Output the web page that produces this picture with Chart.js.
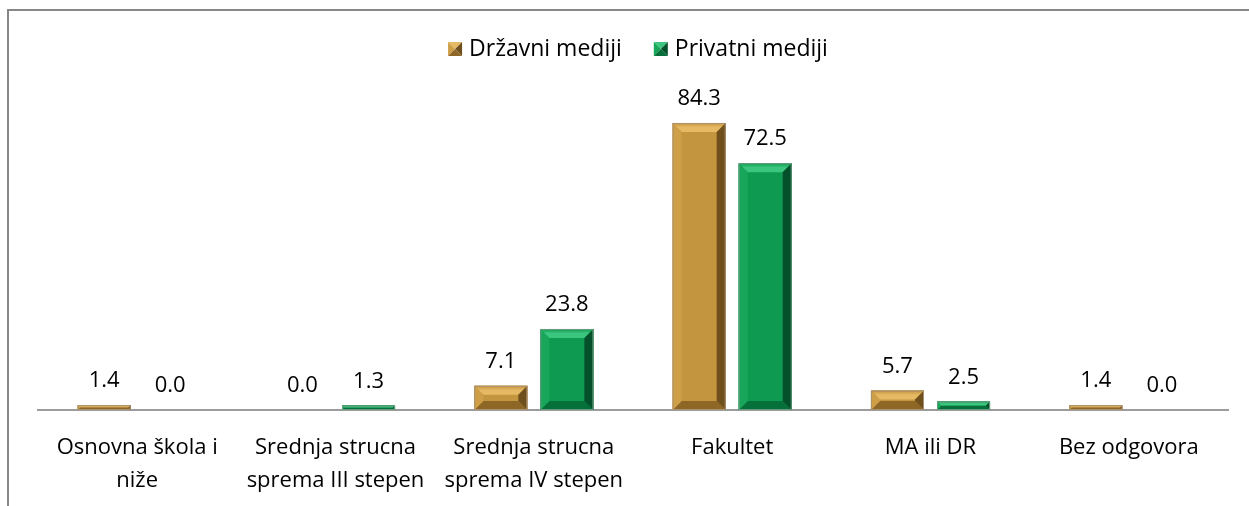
<!DOCTYPE html>
<html>
<head>
<meta charset="utf-8">
<script src="https://cdn.jsdelivr.net/npm/chart.js@4.4.1/dist/chart.umd.min.js"></script>
<style>
  html, body { margin: 0; padding: 0; background: #fff; }
  #wrap { position: relative; width: 1249px; height: 506px; overflow: hidden; }
  #frame {
    position: absolute; left: 7px; top: 9px; width: 1300px; height: 600px;
    border-top: 2px solid #878787; border-left: 2px solid #878787;
  }
  canvas { position: absolute; left: 0; top: 0; }
</style>
</head>
<body>
<div id="wrap">
  <div id="frame"></div>
  <canvas id="chart" width="1249" height="506"></canvas>
</div>
<script>
// --- data ---
const categories = [
  ['Osnovna škola i', 'niže'],
  ['Srednja strucna', 'sprema III stepen'],
  ['Srednja strucna', 'sprema IV stepen'],
  'Fakultet',
  'MA ili DR',
  'Bez odgovora',
];
const drzavni  = [1.4, 0.0, 7.1, 84.3, 5.7, 1.4];
const privatni = [0.0, 1.3, 23.8, 72.5, 2.5, 0.0];
const seriesNames = ['Državni mediji', 'Privatni mediji'];

const FONT = '"Open Sans", "Noto Sans", sans-serif';
const FONT_SIZE = 22;

// bevel palettes per series: face, top, left, right, bottom
const BEVEL = [
  { face: '#c4953f', top: '#e6b964', left: '#cf9f48', right: '#6f4f1c', bottom: '#8e6727', edge: '#a89274' },
  { face: '#0e9a50', top: '#3cc57e', left: '#17a65a', right: '#03502a', bottom: '#06703a', edge: '#6c9a80' },
];

function poly(ctx, pts, fill) {
  ctx.beginPath();
  ctx.moveTo(pts[0][0], pts[0][1]);
  for (let i = 1; i < pts.length; i++) ctx.lineTo(pts[i][0], pts[i][1]);
  ctx.closePath();
  ctx.fillStyle = fill;
  ctx.fill();
}

function drawBevel(ctx, l, t, r, bot, pal, size) {
  const w = r - l, h = bot - t;
  if (h <= 0 || w <= 0) return;
  const b = Math.min(size, h / 2, w / 2);
  poly(ctx, [[l, t], [r, t], [r, bot], [l, bot]], pal.face);
  const g = ctx.createLinearGradient(0, t, 0, t + b);
  g.addColorStop(0, pal.face);
  g.addColorStop(0.5, pal.top);
  g.addColorStop(1, pal.top);
  poly(ctx, [[l, t], [r, t], [r - b, t + b], [l + b, t + b]], g);
  poly(ctx, [[l, bot], [r, bot], [r - b, bot - b], [l + b, bot - b]], pal.bottom);
  poly(ctx, [[l, t], [l + b, t + b], [l + b, bot - b], [l, bot]], pal.left);
  poly(ctx, [[r, t], [r - b, t + b], [r - b, bot - b], [r, bot]], pal.right);
  ctx.strokeStyle = pal.edge;
  ctx.lineWidth = 1;
  ctx.strokeRect(l + 0.5, t + 0.5, w - 1, h - 1);
}

const bevelBars = {
  id: 'bevelBars',
  afterDatasetsDraw(chart) {
    const ctx = chart.ctx;
    ctx.save();
    chart.data.datasets.forEach((ds, di) => {
      const meta = chart.getDatasetMeta(di);
      meta.data.forEach((bar, i) => {
        const half = bar.width / 2;
        drawBevel(ctx, bar.x - half, bar.y, bar.x + half, bar.base, BEVEL[di], 9);
        // value label
        ctx.fillStyle = '#000';
        ctx.font = FONT_SIZE + 'px ' + FONT;
        ctx.textAlign = 'center';
        ctx.textBaseline = 'middle';
        ctx.fillText(ds.data[i].toFixed(1), bar.x, bar.y - 24);
      });
    });
    ctx.restore();
  },
  afterDraw(chart) {
    // legend, centred over the plot
    const ctx = chart.ctx;
    ctx.save();
    ctx.font = '23px ' + FONT;
    ctx.textBaseline = 'middle';
    ctx.textAlign = 'left';
    const box = 14, gapBox = 7, gapItem = 32, y = 49;
    const widths = seriesNames.map(n => box + gapBox + ctx.measureText(n).width);
    const total = widths.reduce((a, b) => a + b, 0) + gapItem;
    let x = 638 - total / 2;
    seriesNames.forEach((n, i) => {
      const pal = BEVEL[i];
      const l = x, t = y - box / 2, r = x + box, bt = y + box / 2;
      const cx = (l + r) / 2, cy = (t + bt) / 2;
      poly(ctx, [[l, t], [r, t], [cx, cy]], pal.top);
      poly(ctx, [[l, t], [cx, cy], [l, bt]], pal.left);
      poly(ctx, [[r, t], [cx, cy], [r, bt]], pal.right);
      poly(ctx, [[l, bt], [cx, cy], [r, bt]], pal.bottom);
      ctx.fillStyle = '#000';
      ctx.fillText(n, x + box + gapBox, y);
      x += widths[i] + gapItem;
    });
    ctx.restore();
  },
};

new Chart(document.getElementById('chart'), {
  type: 'bar',
  data: {
    labels: categories,
    datasets: [
      { label: seriesNames[0], data: drzavni,  backgroundColor: BEVEL[0].face, borderWidth: 0 },
      { label: seriesNames[1], data: privatni, backgroundColor: BEVEL[1].face, borderWidth: 0 },
    ],
  },
  options: {
    responsive: false,
    animation: false,
    events: [],
    layout: { padding: { left: 38, right: 21, top: 69.5, bottom: 0 } },
    datasets: {
      bar: { categoryPercentage: 0.666, barPercentage: 0.803 },
    },
    scales: {
      x: {
        grid: { display: false, drawTicks: false },
        border: { display: true, color: '#9c9c9c', width: 2 },
        ticks: {
          color: '#000',
          font: { size: FONT_SIZE, family: FONT, lineHeight: 1.5 },
          padding: 21,
          maxRotation: 0,
          autoSkip: false,
        },
        afterFit(scale) { scale.height = 96; },
      },
      y: {
        display: false,
        min: 0,
        max: 100,
      },
    },
    plugins: {
      legend: { display: false },
      tooltip: { enabled: false },
    },
  },
  plugins: [bevelBars],
});
</script>
</body>
</html>
